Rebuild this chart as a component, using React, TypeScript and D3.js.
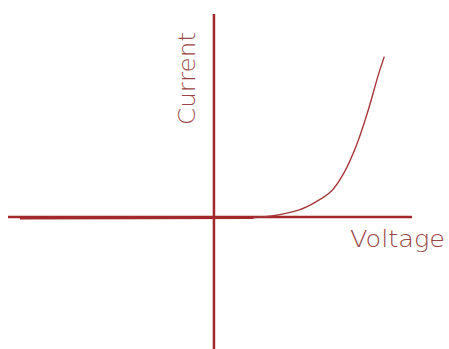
import React from "react";
import * as d3 from "d3";

const W = 449;
const H = 349;

// Axis extents (voltage in V, current in mA)
const voltageDomain: [number, number] = [-1.04, 1.0];
const currentDomain: [number, number] = [-65, 100];

// Diode characteristic
const voltage = [-0.98, 0.2, 0.3, 0.43, 0.515, 0.595, 0.655, 0.72, 0.78, 0.83, 0.86];
const current = [-0.6, -0.3, 0.6, 3.5, 7.5, 13, 21.5, 35.5, 53, 70, 79];

const xLabel = "Voltage";
const yLabel = "Current";

export default function App() {
  const x = d3.scaleLinear().domain(voltageDomain).range([8, 412]);
  const y = d3.scaleLinear().domain(currentDomain).range([349, 14]);

  const pts: [number, number][] = voltage.map((v, i) => [v, current[i]]);
  const reverse = pts.slice(0, 2);
  const forward = pts.slice(1);

  const lineGen = d3
    .line<[number, number]>()
    .x((d) => x(d[0]))
    .y((d) => y(d[1]));
  const curveGen = d3
    .line<[number, number]>()
    .x((d) => x(d[0]))
    .y((d) => y(d[1]))
    .curve(d3.curveCatmullRom.alpha(0.5));

  const axisColor = "#a3282c";
  const textColor = "#9a4446";
  const x0 = x(0);
  const y0 = y(0);

  return (
    <svg
      width={W}
      height={H}
      style={{ position: "absolute", left: 0, top: 0, display: "block", background: "#fff" }}
    >
      {/* horizontal axis */}
      <line x1={x(voltageDomain[0])} x2={x(voltageDomain[1])} y1={y0} y2={y0} stroke={axisColor} strokeWidth={2.5} />
      {/* vertical axis */}
      <line x1={x0} x2={x0} y1={y(currentDomain[1])} y2={y(currentDomain[0])} stroke={axisColor} strokeWidth={2.5} />
      {/* reverse region lying on the axis */}
      <path d={lineGen(reverse) || ""} fill="none" stroke={axisColor} strokeWidth={2.5} />
      {/* forward curve */}
      <path d={curveGen(forward) || ""} fill="none" stroke="#a5383c" strokeWidth={1.4} />
      <text
        x={350}
        y={247}
        fontFamily="'DejaVu Sans', sans-serif"
        fontWeight={200}
        fontSize={23}
        fill={textColor}
        textLength={95}
        lengthAdjust="spacingAndGlyphs"
      >
        {xLabel}
      </text>
      <text
        transform="translate(195,125) rotate(-90)"
        fontFamily="'DejaVu Sans', sans-serif"
        fontWeight={200}
        fontSize={23}
        fill={textColor}
        textLength={93}
        lengthAdjust="spacingAndGlyphs"
      >
        {yLabel}
      </text>
    </svg>
  );
}
